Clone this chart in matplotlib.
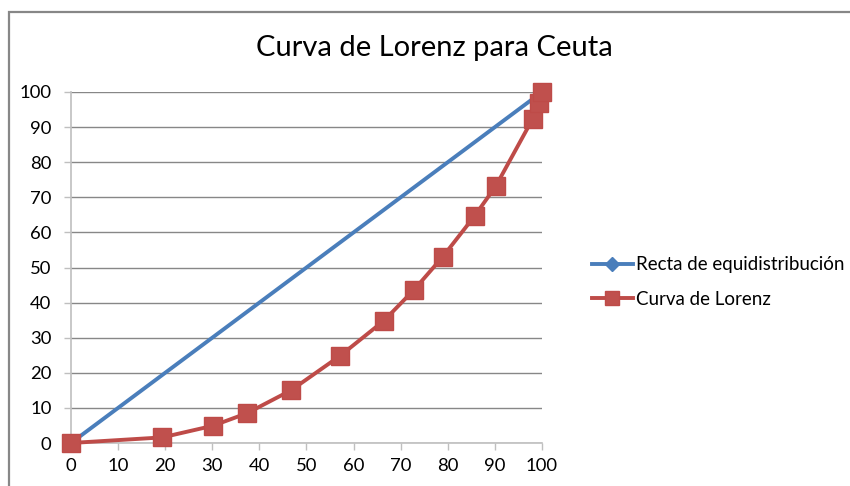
import matplotlib
matplotlib.use("Agg")
import matplotlib.pyplot as plt
from matplotlib.lines import Line2D
from matplotlib.patches import Rectangle

# Data
eq_x = [0, 100]
eq_y = [0, 100]
lor_x = [0, 19.4, 30.1, 37.4, 46.7, 57.2, 66.4, 72.8, 78.9, 85.7, 90.2, 98.0, 99.3, 100]
lor_y = [0, 1.6, 4.9, 8.5, 15.0, 24.9, 34.8, 43.6, 53.0, 64.7, 73.2, 92.3, 97.0, 100]
x_ticks = [0, 10, 20, 30, 40, 50, 60, 70, 80, 90, 100]
y_ticks = [0, 10, 20, 30, 40, 50, 60, 70, 80, 90, 100]
title = "Curva de Lorenz para Ceuta"
labels = ["Recta de equidistribución", "Curva de Lorenz"]

BLUE = "#4A7EBB"
RED = "#BE4B48"
GRID = "#878787"
AXIS = "#BFBFBF"

plt.rcParams['font.family'] = ['Lato', 'DejaVu Sans']

W, H = 850, 486
fig = plt.figure(figsize=(W / 100, H / 100), dpi=100)

# outer chart border (top and left visible; right/bottom beyond crop)
fig.patches.append(Rectangle((8.5 / W, -0.05), (W + 20) / W, 1.05 - 12 / H,
                             transform=fig.transFigure, fill=False,
                             edgecolor="#878787", linewidth=1.6))

ax = fig.add_axes([71 / W, (H - 443) / H, 471 / W, 351 / H])
ax.set_xlim(0, 100)
ax.set_ylim(0, 100)

ax.plot(eq_x, eq_y, color=BLUE, linewidth=2.8, marker="D", markersize=7,
        markerfacecolor=BLUE, markeredgecolor=BLUE, zorder=3, clip_on=False)
ax.plot(lor_x, lor_y, color=RED, linewidth=2.8, marker="s", markersize=12.5,
        markerfacecolor="#C0504D", markeredgecolor=RED, zorder=4, clip_on=False)

ax.set_xticks(x_ticks)
ax.set_yticks(y_ticks)
ax.tick_params(axis="both", direction="out", length=5, width=1, color=AXIS,
               labelsize=13.3, labelcolor="#000000")
ax.tick_params(axis="y", pad=9)
ax.tick_params(axis="x", pad=6)
ax.yaxis.grid(True, color=GRID, linewidth=1)
ax.set_axisbelow(True)
for s in ["top", "right"]:
    ax.spines[s].set_visible(False)
for s in ["left", "bottom"]:
    ax.spines[s].set_color(AXIS)
    ax.spines[s].set_linewidth(1.2)

fig.text(434 / W, 1 - 48 / H, title, ha="center", va="center", fontsize=21)

handles = [
    Line2D([], [], color=BLUE, linewidth=2.8, marker="D", markersize=7),
    Line2D([], [], color=RED, linewidth=2.8, marker="s", markersize=9.5,
           markerfacecolor="#C0504D", markeredgecolor=RED),
]
fig.legend(handles, labels, loc="center left", bbox_to_anchor=(584 / W, 1 - 282 / H),
           frameon=False, fontsize=13.5, handlelength=2.2, handletextpad=0.15,
           labelspacing=0.95, borderaxespad=0)

fig.savefig("out.png", dpi=100)
